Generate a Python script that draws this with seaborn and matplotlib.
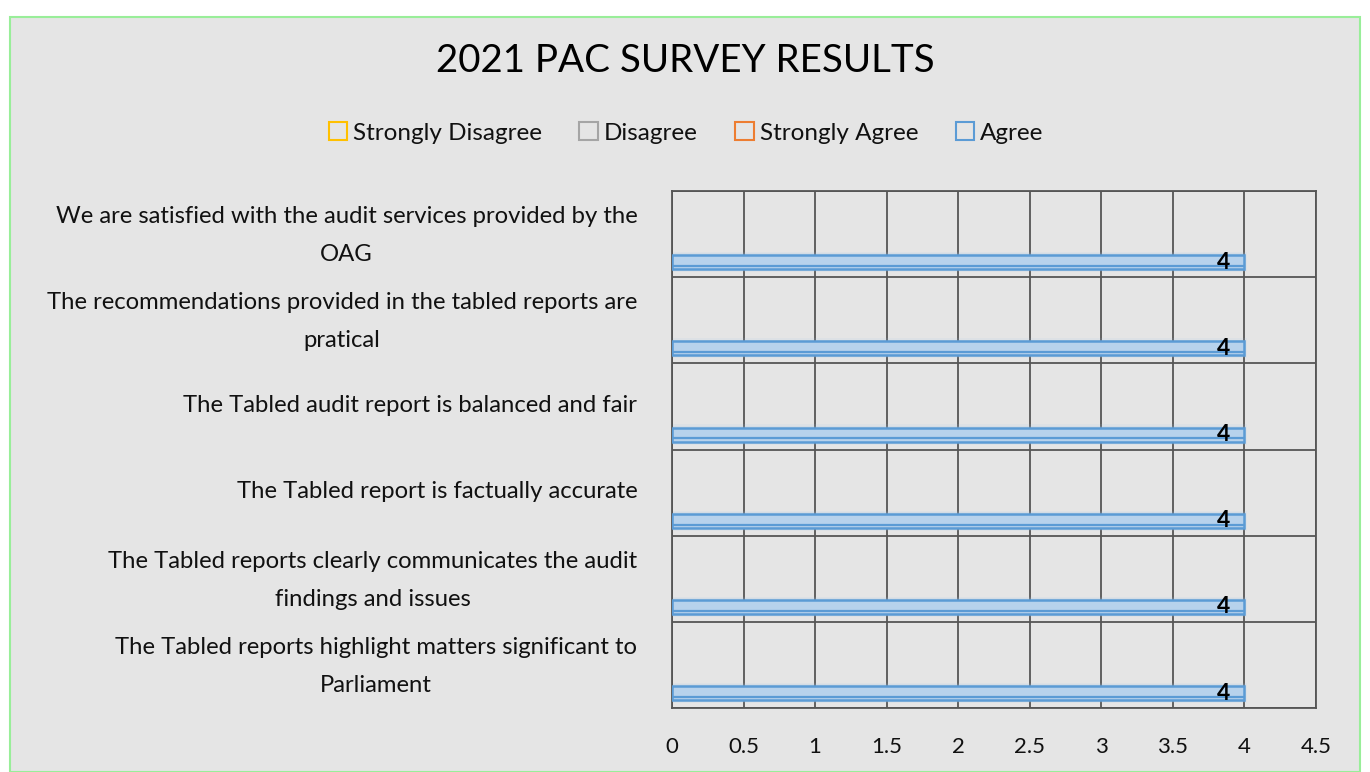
import matplotlib
matplotlib.use("Agg")
import matplotlib.pyplot as plt
import matplotlib.transforms as mtransforms
from matplotlib.patches import Patch, Rectangle
import seaborn as sns
import pandas as pd
import numpy as np

questions = [
    "We are satisfied with the audit services provided by the\nOAG",
    "The recommendations provided in the tabled reports are\npratical",
    "The Tabled audit report is balanced and fair",
    "The Tabled report is factually accurate",
    "The Tabled reports clearly communicates the audit\nfindings and issues",
    "The Tabled reports highlight matters significant to\nParliament",
]
series = ["Strongly Disagree", "Disagree", "Strongly Agree", "Agree"]
strongly_disagree = [0, 0, 0, 0, 0, 0]
disagree = [0, 0, 0, 0, 0, 0]
strongly_agree = [0, 0, 0, 0, 0, 0]
agree = [4, 4, 4, 4, 4, 4]
colors = ["#FFC000", "#A5A5A5", "#ED7D31", "#5B9BD5"]
xticks = [0, 0.5, 1, 1.5, 2, 2.5, 3, 3.5, 4, 4.5]

rows = []
for name, vals in zip(series, [strongly_disagree, disagree, strongly_agree, agree]):
    for q, v in zip(questions, vals):
        rows.append({"Question": q, "Response": name, "Count": v})
df = pd.DataFrame(rows)

sns.set_theme(style="white")
plt.rcParams["font.family"] = ["Lato", "DejaVu Sans"]
plt.rcParams["text.color"] = "#111111"
plt.rcParams["xtick.color"] = "#111111"
plt.rcParams["ytick.color"] = "#111111"

fig = plt.figure(figsize=(13.7, 7.72), dpi=100)
fig.patch.set_facecolor("white")
fig.patches.append(Rectangle((10/1370, 0), 1350/1370, 1 - 17/772, transform=fig.transFigure,
                             facecolor="#e5e5e5", edgecolor="#99ee99", linewidth=1.5, zorder=-10))

ax = fig.add_axes([672/1370, 1 - 708/772, (1316-672)/1370, (708-191)/772])
ax.set_facecolor("#e5e5e5")

fills = {"Strongly Disagree": "none", "Disagree": "none", "Strongly Agree": "none", "Agree": "#b7d2ec"}
sns.barplot(data=df, y="Question", x="Count", hue="Response", hue_order=series,
            order=questions, orient="h", width=0.87, gap=0.25, dodge=True,
            palette=colors, ax=ax, legend=False, zorder=3)

for cont, name, col in zip(ax.containers, series, colors):
    for bar in cont:
        bar.set_facecolor(fills[name])
        bar.set_edgecolor(col)
        bar.set_linewidth(1.8 if name == "Agree" else 0)

# soft glow around the Agree bars and inner line
for bar in ax.containers[3]:
    y0, h, w = bar.get_y(), bar.get_height(), bar.get_width()
    for k, a in [(0.035, 0.10), (0.02, 0.15)]:
        ax.add_patch(Rectangle((0, y0 - k), w + k * 0.6, h + 2 * k, facecolor="#9ec4ea",
                               edgecolor="none", alpha=a, zorder=2.5))
    ax.plot([0, w], [y0 + h * 0.78, y0 + h * 0.78], color="#5B9BD5", lw=1.6, zorder=3.5)

ax.bar_label(ax.containers[3], labels=[str(v) for v in agree], padding=-20,
             fontsize=16.5, fontweight="bold", color="black", zorder=5)

ax.set_xlim(0, 4.5)
ax.set_xticks(xticks)
ax.set_xticklabels([("%g" % t) for t in xticks], fontsize=16)
ax.set_ylim(len(questions) - 0.5, -0.5)
ax.set_yticks(range(len(questions)))
ax.set_yticklabels(questions, fontsize=17.2, ha="right", multialignment="center", linespacing=2.0)
ax.tick_params(axis="y", pad=25, length=0)
ax.tick_params(axis="x", pad=21, length=0)
for lab in ax.get_yticklabels():
    dy = 9 if "\n" in lab.get_text() else 3
    lab.set_transform(lab.get_transform() + mtransforms.ScaledTranslation(0, dy / 100, fig.dpi_scale_trans))
ax.set_yticks(np.arange(-0.5, len(questions), 1.0), minor=True)
ax.tick_params(axis="y", which="minor", length=0)
ax.grid(True, axis="x", which="major", color="#555555", linewidth=1.3, zorder=1)
ax.grid(True, axis="y", which="minor", color="#555555", linewidth=1.3, zorder=1)
ax.grid(False, axis="y", which="major")
ax.set_axisbelow(True)
for s in ax.spines.values():
    s.set_color("#555555")
    s.set_linewidth(1.3)
ax.set_xlabel("")
ax.set_ylabel("")

fig.text(685/1370, 1 - 61/772, "2021 PAC SURVEY RESULTS", ha="center", va="center", fontsize=27.7, color="black")

handles = [Patch(facecolor="none", edgecolor=c, linewidth=1.5) for c in colors]
fig.legend(handles, series, loc="center", bbox_to_anchor=(686/1370, 1 - 133/772), ncol=4,
           frameon=False, fontsize=17.5, handlelength=0.75, handleheight=0.75, handletextpad=0.25,
           columnspacing=1.55)

fig.savefig("out.png", dpi=100, facecolor=fig.get_facecolor())
